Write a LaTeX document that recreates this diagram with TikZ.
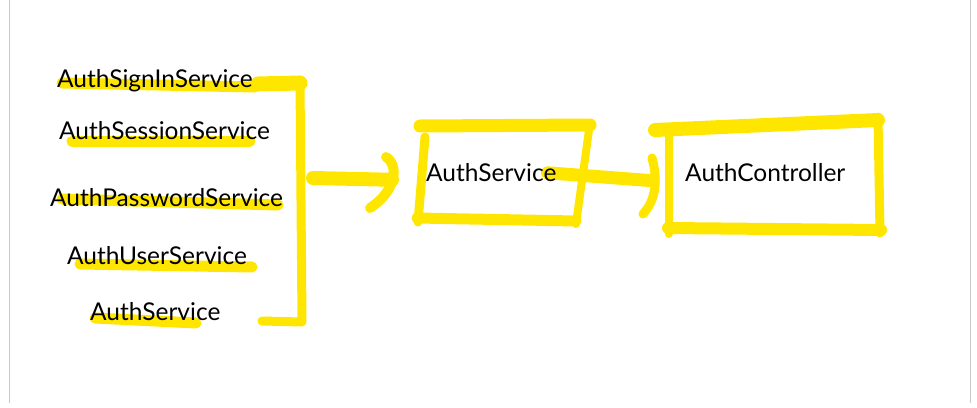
\documentclass[tikz,border=0pt]{standalone}
\usepackage{fontspec}
\setmainfont{Lato}
\usetikzlibrary{backgrounds}
\definecolor{hlyellow}{RGB}{255,230,0}
\definecolor{framegray}{RGB}{200,200,200}
\begin{document}
\begin{tikzpicture}[x=1pt, y=-1pt,
  lbl/.style={anchor=base west, inner sep=0pt, font=\fontsize{24.5}{28}\selectfont},
  hl/.style={draw=hlyellow, line width=11pt, line cap=round, line join=round}]
  \useasboundingbox (0,0) rectangle (977,407);
  \draw[framegray, line width=1pt] (9.5,0) -- (9.5,403) (970,0) -- (970,403);
  % services
  \foreach \n/\t/\x/\y in {sgn/AuthSignInService/57/87, ses/AuthSessionService/59/139.3,
      pwd/AuthPasswordService/50/206.7, usr/AuthUserService/67/264, ase/AuthService/90/320}
    \node[lbl] (\n) at (\x,\y) {\t};
  \node[lbl] (svc) at (426,181.7) {AuthService};
  \node[lbl] (ctl) at (685,181.7) {AuthController};
  \coordinate (brk) at (313,178);
  \begin{scope}[on background layer]
    % underlines
    \foreach \a/\b in {{(62,83)}/{(255,87)}, {(72,141)}/{(250,141)}, {(62,199)}/{(278,205)},
        {(80,264)}/{(252,267)}, {(95,318)}/{(196,323)}}
      \draw[hl] \a -- \b;
    % bracket
    \draw[hl, line width=15pt] (258,84) -- (300,83);
    \draw[hl, line width=9pt] (300,80) -- (302,322) -- (262,321);
    % AuthService box
    \draw[hl, line width=13pt] (420,126) -- (590,125);
    \draw[hl, line width=9pt] (425,137) -- (418,222);
    \draw[hl] (417,218) -- (576,221);
    \draw[hl, line width=8pt] (589,130) -- (576,224);
    % AuthController box
    \draw[hl, line width=14pt] (655,130) -- (878,120);
    \draw[hl, line width=8pt] (669,133) -- (669,234);
    \draw[hl, line width=12pt] (668,228) -- (881,230);
    \draw[hl, line width=9pt] (878,117) -- (880,233);
    % arrows
    \draw[hl, line width=14pt] (brk) -- ([shift={(-34,7)}]svc.west);
    \draw[hl, line width=10pt] (386,157) .. controls (400,166) and (395,192) .. (370,208);
    \draw[hl, line width=13pt] ([shift={(-9,0)}]svc.east) -- (590,176) -- ([shift={(-32,8)}]ctl.west);
    \draw[hl, line width=9pt] (652,158) .. controls (658,180) and (656,200) .. (643,214);
  \end{scope}
\end{tikzpicture}
\end{document}
